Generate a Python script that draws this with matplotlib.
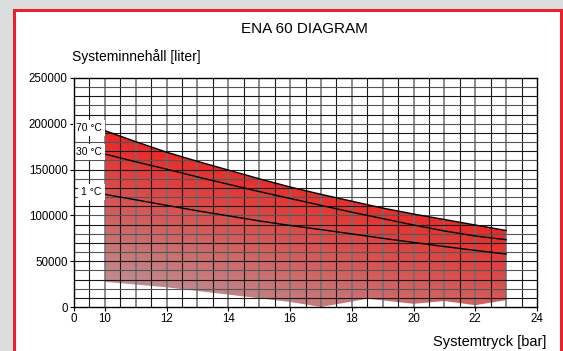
import numpy as np
import matplotlib
matplotlib.use("Agg")
import matplotlib.pyplot as plt
from matplotlib.patches import Rectangle, Polygon

plt.rcParams['font.family'] = ['Liberation Sans', 'DejaVu Sans']

# ---- data ----
pressure = [10, 11, 12, 13, 14, 15, 16, 17, 18, 19, 20, 21, 22, 23]
vol_70 = [192500, 180500, 169000, 159000, 149500, 140000, 131000, 123000,
          115500, 108000, 101500, 95500, 89500, 83500]
vol_30 = [167000, 158500, 150500, 142000, 134000, 126000, 118500, 111000,
          103500, 96500, 89500, 83000, 77500, 73500]
vol_1 = [123000, 117000, 111000, 105000, 99500, 94000, 89000, 84500,
         79800, 75000, 70500, 66000, 61800, 57800]
bottom_p = [10, 12, 14, 16, 17, 18.5, 20, 21, 22, 23]
bottom_v = [27500, 21500, 13500, 5500, 0, 9000, 3500, 6500, 2000, 7500]
curve_labels = ['70 °C', '30 °C', '1 °C']
x_ticks = [9, 10, 12, 14, 16, 18, 20, 22, 24]
x_ticklabels = ['0', '10', '12', '14', '16', '18', '20', '22', '24']
y_ticks = [0, 50000, 100000, 150000, 200000, 250000]
title = 'ENA 60 DIAGRAM'
ylabel = 'Systeminnehåll [liter]'
xlabel = 'Systemtryck [bar]'

W, H = 563, 351
fig = plt.figure(figsize=(W / 100, H / 100), dpi=100)
fig.patch.set_facecolor('#dcdddf')

# outer white panel with red border
panel = Rectangle((14 / W, -0.05), (561 - 14) / W, 1.05 - 10 / H,
                  transform=fig.transFigure, facecolor='white',
                  edgecolor='#e8232f', linewidth=2.2, zorder=-10)
fig.patches.append(panel)

ax = fig.add_axes([74 / W, 1 - 307 / H, (537 - 74) / W, (307 - 78) / H])
ax.set_zorder(5)
ax.set_xlim(9, 24)
ax.set_ylim(0, 250000)
ax.set_facecolor('white')

# gradient fill clipped by region polygon
top_pts = list(zip(pressure, vol_70))
bot_pts = list(zip(bottom_p, bottom_v))[::-1]
poly = Polygon(top_pts + bot_pts, closed=True, facecolor='none',
               edgecolor='none', transform=ax.transData)
ax.add_patch(poly)
nx, ny = 300, 300
xs = np.linspace(10, 23, nx)
ys = np.linspace(0, 200000, ny)
XX, YY = np.meshgrid(xs, ys)
t = np.clip(YY / 190000 * 1.0 + (XX - 10) / 13 * 0.55, 0, 1)
gray = np.array([182, 160, 164]) / 255
red = np.array([233, 40, 36]) / 255
img = gray[None, None, :] * (1 - t[..., None]) + red[None, None, :] * t[..., None]
im = ax.imshow(img, extent=[10, 23, 0, 200000], origin='lower',
               aspect='auto', zorder=1, interpolation='bilinear')
im.set_clip_path(poly)

# grid
for xv in np.arange(9.5, 24, 0.5):
    if float(xv).is_integer():
        ax.axvline(xv, color='#6e6e6e', lw=1.1, zorder=2)
    else:
        ax.axvline(xv, color='#1a1a1a', lw=0.8, zorder=2)
for yv in range(10000, 250000, 10000):
    c = '#1a1a1a' if (yv // 10000) % 2 else '#555555'
    ax.axhline(yv, color=c, lw=0.8, zorder=2)

# curves
for v in (vol_70, vol_30, vol_1):
    ax.plot(pressure, v, color='black', lw=1.0, zorder=3)

# curve labels
for lab, v in zip(curve_labels, (vol_70, vol_30, vol_1)):
    ax.text(9.9, v[0] + 2500, lab, ha='right', va='center', fontsize=7.5,
            zorder=4, bbox=dict(facecolor='white', edgecolor='none', pad=2.2))

ax.set_xticks(x_ticks)
ax.set_xticklabels(x_ticklabels)
ax.set_yticks(y_ticks)
ax.set_yticklabels([str(v) for v in y_ticks])
ax.tick_params(length=3, width=0.8, labelsize=8.3, pad=1.5, direction='out')
for s in ax.spines.values():
    s.set_linewidth(1.0)
    s.set_zorder(5)

fig.text(304.5 / W, 1 - 29 / H, title, ha='center', va='center', fontsize=11)
fig.text(72 / W, 1 - 57 / H, ylabel, ha='left', va='center', fontsize=10)
fig.text(546 / W, 1 - 342 / H, xlabel, ha='right', va='center', fontsize=10.5)

fig.savefig('out.png', dpi=100, facecolor=fig.get_facecolor())
